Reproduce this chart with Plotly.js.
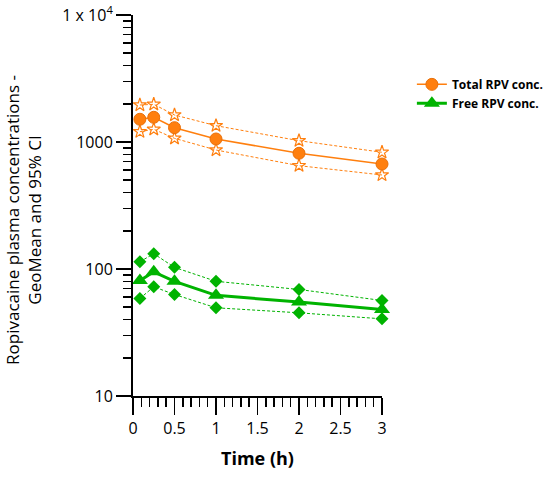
<!DOCTYPE html>
<html>
<head>
<meta charset="utf-8">
<script src="https://cdn.plot.ly/plotly-3.0.1.min.js"></script>
<style>html,body{margin:0;padding:0;background:#fff;}#chart{width:550px;height:478px;}</style>
</head>
<body>
<div id="chart"></div>
<script>
// Time points (h)
const timeH = [0.083, 0.25, 0.5, 1, 2, 3];
// Total ropivacaine concentration: geometric mean and 95% CI
const totalMean  = [1510, 1565, 1296, 1056, 815, 671];
const totalUpper = [1956, 1981, 1632, 1344, 1024, 830];
const totalLower = [1205, 1259, 1069, 865, 651, 550];
// Free ropivacaine concentration: geometric mean and 95% CI
const freeMean  = [81, 95, 80, 62, 55, 48];
const freeUpper = [114, 132, 103, 80, 69, 56.5];
const freeLower = [58.6, 72.4, 63, 49.5, 45.2, 40.5];
// Axis ticks
const xTicks = [0, 0.5, 1, 1.5, 2, 2.5, 3];
const xTickText = ['0', '0.5', '1', '1.5', '2', '2.5', '3'];
const yTicks = [10, 100, 1000, 10000];
const yTickText = ['10', '100', '1000', '1 x 10<sup>4</sup>'];
const yMinor = [];
[10, 100, 1000].forEach(d => { for (let k = 2; k <= 9; k++) yMinor.push(k * d); });
const xMinor = [];
for (let i = 0; i <= 30; i++) { if (i % 5 !== 0) xMinor.push(i / 10); }
const yTitle = 'Ropivacaine plasma concentrations -<br>GeoMean and 95% CI';

const orange = '#FF7F0E';
const orangeDark = '#E8700A';
const green = '#00B300';

const traces = [
  {x: timeH, y: totalUpper, mode: 'lines+markers', showlegend: false, cliponaxis: false,
   line: {color: orange, width: 1, dash: '3px,2px'},
   marker: {symbol: 'star-open', size: 10, color: orange, line: {width: 1.2, color: orange}}},
  {x: timeH, y: totalLower, mode: 'lines+markers', showlegend: false, cliponaxis: false,
   line: {color: orange, width: 1, dash: '3px,2px'},
   marker: {symbol: 'star-open', size: 10, color: orange, line: {width: 1.2, color: orange}}},
  {x: timeH, y: totalMean, mode: 'lines+markers', name: 'Total RPV conc.', cliponaxis: false,
   line: {color: orange, width: 1.5},
   marker: {symbol: 'circle', size: 12, color: orange, line: {width: 1, color: orangeDark}}},
  {x: timeH, y: freeUpper, mode: 'lines+markers', showlegend: false, cliponaxis: false,
   line: {color: green, width: 1, dash: '3px,2px'},
   marker: {symbol: 'diamond', size: 10, color: green}},
  {x: timeH, y: freeLower, mode: 'lines+markers', showlegend: false, cliponaxis: false,
   line: {color: green, width: 1, dash: '3px,2px'},
   marker: {symbol: 'diamond', size: 10, color: green}},
  {x: timeH, y: freeMean, mode: 'lines+markers', name: 'Free RPV conc.', cliponaxis: false,
   line: {color: green, width: 3},
   marker: {symbol: 'triangle-up', size: 14, color: green}}
];

const layout = {
  width: 550, height: 478,
  margin: {l: 133, r: 168, t: 15, b: 82, autoexpand: false},
  paper_bgcolor: '#fff', plot_bgcolor: '#fff',
  font: {family: 'Open Sans, sans-serif', color: '#000'},
  showlegend: true,
  legend: {x: 1.12, y: 0.856, xanchor: 'left', yanchor: 'top', bgcolor: 'rgba(0,0,0,0)',
           font: {size: 12, family: 'Open Sans, sans-serif', weight: 'bold', color: '#000'},
           tracegroupgap: 0, itemwidth: 30},
  annotations: [{
    text: yTitle, xref: 'paper', yref: 'paper', x: -0.438, y: 0.462,
    xanchor: 'center', yanchor: 'middle', textangle: -90, showarrow: false,
    font: {size: 17, family: 'Open Sans, sans-serif', color: '#000'}
  }],
  xaxis: {
    range: [0, 3], showgrid: false, zeroline: false,
    showline: true, linecolor: '#000', linewidth: 2,
    ticks: 'outside', ticklen: 17, tickwidth: 1.5, tickcolor: '#000',
    tickmode: 'array', tickvals: xTicks, ticktext: xTickText,
    tickfont: {size: 16},
    minor: {tickmode: 'array', tickvals: xMinor, ticks: 'outside', ticklen: 9, tickwidth: 1.5, tickcolor: '#000'},
    title: {text: 'Time (h)', font: {size: 18, weight: 'bold'}, standoff: 14}
  },
  yaxis: {
    type: 'log', range: [1, 4], showgrid: false, zeroline: false,
    showline: true, linecolor: '#000', linewidth: 2,
    ticks: 'outside', ticklen: 15, tickwidth: 1.5, tickcolor: '#000',
    tickmode: 'array', tickvals: yTicks, ticktext: yTickText,
    tickfont: {size: 16},
    minor: {tickmode: 'array', tickvals: yMinor, ticks: 'outside', ticklen: 8, tickwidth: 1.5, tickcolor: '#000'}
  }
};

Plotly.newPlot('chart', traces, layout, {displayModeBar: false, staticPlot: true});
</script>
</body>
</html>
